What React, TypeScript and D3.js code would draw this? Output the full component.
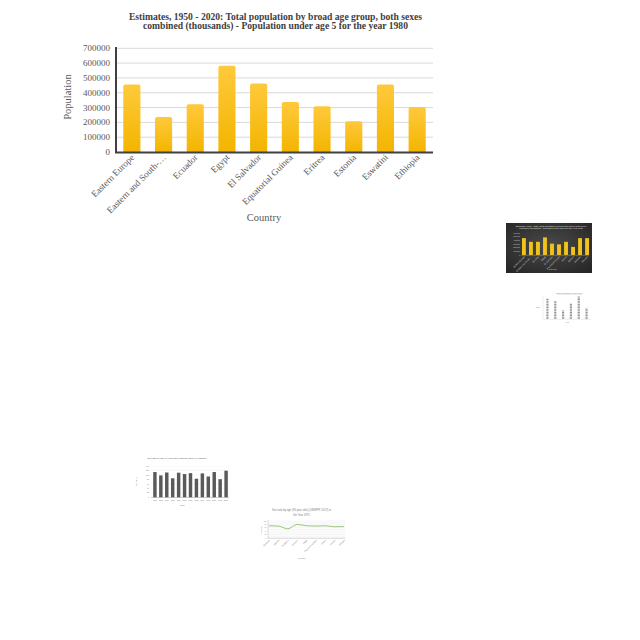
import * as d3 from "d3";

// main chart data (thousands)
const countries = [
  "Eastern Europe",
  "Eastern and South-…",
  "Ecuador",
  "Egypt",
  "El Salvador",
  "Equatorial Guinea",
  "Eritrea",
  "Estonia",
  "Eswatini",
  "Ethiopia",
];
const population = [456000, 237000, 323000, 582000, 463000, 338000, 309000, 208000, 456000, 303000];
const yTicks = [0, 100000, 200000, 300000, 400000, 500000, 600000, 700000];

// thumbnail data
const darkValues = [46, 36, 36, 48, 31, 29, 36, 22, 46, 46];
const stripeValues = [68, 60, 29, 52, 75, 37];
const sexRatioYears = ["1950", "1955", "1960", "1965", "1970", "1975", "1980", "1985", "1990", "1995", "2000", "2005", "2010"];
const sexRatioValues = [113, 98, 111, 85, 110, 104, 108, 83, 107, 93, 113, 81, 119];
const lineCountries = ["Denmark", "Djibouti", "Dominica", "Ecuador", "Egypt", "Equatorial Guinea", "Eritrea", "Estonia", "Ethiopia"];
const lineValues = [72, 70, 54, 80, 72, 70, 72, 66, 67];

const serif = "'Liberation Serif', 'Times New Roman', serif";
const sans = "'Liberation Sans', Arial, sans-serif";

function MainChart() {
  const x = d3.scaleBand<string>().domain(countries).range([116, 433]).paddingInner(0.46).paddingOuter(0.23);
  const y = d3.scaleLinear().domain([0, 700000]).range([152, 48.3]);
  return (
    <g>
      <defs>
        <linearGradient id="goldGrad" x1="0" y1="0" x2="0" y2="1">
          <stop offset="0%" stopColor="#FFC93C" />
          <stop offset="100%" stopColor="#F3B500" />
        </linearGradient>
      </defs>
      <text x={275.5} y={19.5} textAnchor="middle" fontFamily={serif} fontWeight="bold" fontSize={9.6} fill="#404040">
        Estimates, 1950 - 2020: Total population by broad age group, both sexes
      </text>
      <text x={275.5} y={29.3} textAnchor="middle" fontFamily={serif} fontWeight="bold" fontSize={9.6} fill="#404040">
        combined (thousands) - Population under age 5 for the year 1980
      </text>
      {yTicks.slice(1).map((t) => (
        <line key={t} x1={116} x2={433} y1={y(t)} y2={y(t)} stroke="#d9d9d9" strokeWidth={1} />
      ))}
      {yTicks.map((t) => (
        <text key={"l" + t} x={110} y={y(t)} dy="0.33em" textAnchor="end" fontFamily={serif} fontSize={9} fill="#595959">
          {t}
        </text>
      ))}
      {countries.map((c, i) => {
        const bx = x(c)!;
        const w = x.bandwidth();
        const top = y(population[i]);
        const h = y(0) - top;
        return (
          <path
            key={c}
            d={`M${bx},${y(0)}V${top + 2}Q${bx},${top} ${bx + 2},${top}H${bx + w - 2}Q${bx + w},${top} ${bx + w},${top + 2}V${top + h}Z`}
            fill="url(#goldGrad)"
          />
        );
      })}
      <line x1={116} x2={116} y1={47} y2={152.5} stroke="#404040" strokeWidth={2} />
      <line x1={115} x2={433} y1={152.5} y2={152.5} stroke="#404040" strokeWidth={2} />
      {countries.map((c) => {
        const cx = x(c)! + x.bandwidth() / 2 + 3;
        return (
          <text
            key={"x" + c}
            transform={`translate(${cx},${158}) rotate(-45)`}
            textAnchor="end"
            fontFamily={serif}
            fontSize={9.2}
            fill="#595959"
          >
            {c}
          </text>
        );
      })}
      <text x={264} y={221} textAnchor="middle" fontFamily={serif} fontSize={10.5} fill="#595959">
        Country
      </text>
      <text transform="translate(70.5,97) rotate(-90)" textAnchor="middle" fontFamily={serif} fontSize={10.5} fill="#595959">
        Population
      </text>
    </g>
  );
}

function DarkThumb() {
  const x = d3.scaleBand<string>().domain(countries).range([522, 589]).paddingInner(0.45);
  const y = d3.scaleLinear().domain([0, 60]).range([255, 233]);
  return (
    <g>
      <defs>
        <radialGradient id="darkGrad" cx="50%" cy="45%" r="70%">
          <stop offset="0%" stopColor="#4a4a4a" />
          <stop offset="100%" stopColor="#262626" />
        </radialGradient>
      </defs>
      <rect x={506} y={223} width={86} height={50} fill="url(#darkGrad)" />
      <text x={551} y={226.8} textAnchor="middle" fontFamily={sans} fontSize={2.2} fill="#e0e0e0">
        Estimates, 1950 - 2020: Total population by broad age group, both sexes
      </text>
      <text x={551} y={229.3} textAnchor="middle" fontFamily={sans} fontSize={2.2} fill="#e0e0e0">
        combined (thousands) - Population under age 5 for the year 1985
      </text>
      {y.ticks(6).map((t) => (
        <text key={t} x={520} y={y(t)} dy="0.33em" textAnchor="end" fontFamily={sans} fontSize={2} fill="#cccccc">
          {t * 10000}
        </text>
      ))}
      {countries.map((c, i) => (
        <rect key={c} x={x(c)} y={y(darkValues[i])} width={x.bandwidth()} height={y(0) - y(darkValues[i])} fill="#F2C417" />
      ))}
      <line x1={521} x2={589} y1={255.3} y2={255.3} stroke="#9a9a9a" strokeWidth={0.5} />
      {countries.map((c) => (
        <text
          key={"t" + c}
          transform={`translate(${x(c)! + x.bandwidth() / 2 + 1},257) rotate(-45)`}
          textAnchor="end"
          fontFamily={sans}
          fontSize={2.2}
          fill="#c8c8c8"
        >
          {c}
        </text>
      ))}
      <text x={553} y={269.5} textAnchor="middle" fontFamily={sans} fontSize={2.4} fill="#c8c8c8">
        Country
      </text>
    </g>
  );
}

function StripeThumb() {
  const labels = ["A", "B", "C", "D", "E", "F"];
  const x = d3.scaleBand<string>().domain(labels).range([544, 590]).paddingInner(0.72).paddingOuter(0.3);
  const y = d3.scaleLinear().domain([0, 80]).range([319, 295]);
  return (
    <g>
      <defs>
        <pattern id="stripes" width={2} height={1.6} patternUnits="userSpaceOnUse">
          <rect width={2} height={1} fill="#8c8c8c" />
        </pattern>
      </defs>
      <text x={569} y={293.5} textAnchor="middle" fontFamily={sans} fontSize={2} fill="#909090">
        Total population by age group
      </text>
      <line x1={557} x2={582} y1={294.2} y2={294.2} stroke="#d0d0d0" strokeWidth={0.6} />
      <line x1={543} x2={543} y1={296} y2={319} stroke="#e2e2e2" strokeWidth={0.5} />
      <line x1={543} x2={591} y1={319.2} y2={319.2} stroke="#cfcfcf" strokeWidth={0.5} />
      {labels.map((l, i) => (
        <rect key={l} x={x(l)} y={y(stripeValues[i])} width={x.bandwidth()} height={y(0) - y(stripeValues[i])} fill="url(#stripes)" />
      ))}
      <text x={538} y={308} textAnchor="middle" fontFamily={sans} fontSize={2} fill="#8a8a8a">
        Value
      </text>
      <text x={567} y={322.5} textAnchor="middle" fontFamily={sans} fontSize={2} fill="#8a8a8a">
        Year
      </text>
    </g>
  );
}

function SexRatioThumb() {
  const x = d3.scaleBand<string>().domain(sexRatioYears).range([152, 229]).paddingInner(0.42).paddingOuter(0.2);
  const y = d3.scaleLinear().domain([0, 140]).range([497.3, 466]);
  return (
    <g>
      <text x={177} y={459} textAnchor="middle" fontFamily={sans} fontSize={2.3} fill="#555">
        Sex ratio by age (0 year olds) (UNWPP, 2017) in Lebanon
      </text>
      {y.ticks(7).map((t) => (
        <g key={t}>
          <line x1={151} x2={229} y1={y(t)} y2={y(t)} stroke="#eeeeee" strokeWidth={0.4} />
          <text x={149} y={y(t)} dy="0.33em" textAnchor="end" fontFamily={sans} fontSize={1.9} fill="#777">
            {t}
          </text>
        </g>
      ))}
      {sexRatioYears.map((yr, i) => (
        <rect key={yr} x={x(yr)} y={y(sexRatioValues[i])} width={x.bandwidth()} height={y(0) - y(sexRatioValues[i])} fill="#5a5a5a" />
      ))}
      <line x1={151} x2={229} y1={497.5} y2={497.5} stroke="#888" strokeWidth={0.4} />
      {sexRatioYears.map((yr) => (
        <text key={"t" + yr} x={x(yr)! + x.bandwidth() / 2} y={501} textAnchor="middle" fontFamily={sans} fontSize={1.8} fill="#777">
          {yr}
        </text>
      ))}
      <text x={182} y={505.5} textAnchor="middle" fontFamily={sans} fontSize={2} fill="#777">
        Years
      </text>
      <text transform="translate(137,482) rotate(-90)" textAnchor="middle" fontFamily={sans} fontSize={2} fill="#777">
        Sex Ratio
      </text>
    </g>
  );
}

function LineThumb() {
  const x = d3.scalePoint<string>().domain(lineCountries).range([269, 344]);
  const y = d3.scaleLinear().domain([0, 100]).range([538, 521]);
  const line = d3
    .line<number>()
    .x((_, i) => x(lineCountries[i])!)
    .y((d) => y(d))
    .curve(d3.curveMonotoneX);
  return (
    <g>
      <text x={301.5} y={511} textAnchor="middle" fontFamily={sans} fontSize={2.7} fill="#808080">
        Sex ratio by age (90 year olds) (UNWPP, 2017) in
      </text>
      <text x={301.5} y={515.5} textAnchor="middle" fontFamily={sans} fontSize={2.7} fill="#808080">
        the Year 1975
      </text>
      {d3.range(0, 101, 10).map((t) => (
        <line key={t} x1={268} x2={345} y1={y(t)} y2={y(t)} stroke="#e6e6e6" strokeWidth={0.4} />
      ))}
      {[0, 20, 40, 60, 80, 100].map((t) => (
        <text key={"l" + t} x={266.5} y={y(t)} dy="0.33em" textAnchor="end" fontFamily={sans} fontSize={1.6} fill="#888">
          {t}
        </text>
      ))}
      <line x1={268} x2={268} y1={520} y2={538.3} stroke="#aaa" strokeWidth={0.4} />
      <line x1={268} x2={345} y1={538.3} y2={538.3} stroke="#aaa" strokeWidth={0.4} />
      <path d={line(lineValues) ?? ""} fill="none" stroke="#8fbf73" strokeWidth={0.9} />
      {lineCountries.map((c) => (
        <text
          key={c}
          transform={`translate(${x(c)! + 1},540.5) rotate(-45)`}
          textAnchor="end"
          fontFamily={sans}
          fontSize={2.1}
          fill="#888"
        >
          {c}
        </text>
      ))}
      <text x={302} y={559} textAnchor="middle" fontFamily={sans} fontSize={2.2} fill="#888">
        Country
      </text>
      <text transform="translate(262,530) rotate(-90)" textAnchor="middle" fontFamily={sans} fontSize={1.8} fill="#888">
        Sex ratio
      </text>
    </g>
  );
}

export default function App() {
  return (
    <svg
      width={640}
      height={640}
      viewBox="0 0 640 640"
      style={{ position: "absolute", left: 0, top: 0, background: "#ffffff" }}
    >
      <rect width={640} height={640} fill="#ffffff" />
      <MainChart />
      <DarkThumb />
      <StripeThumb />
      <SexRatioThumb />
      <LineThumb />
    </svg>
  );
}
